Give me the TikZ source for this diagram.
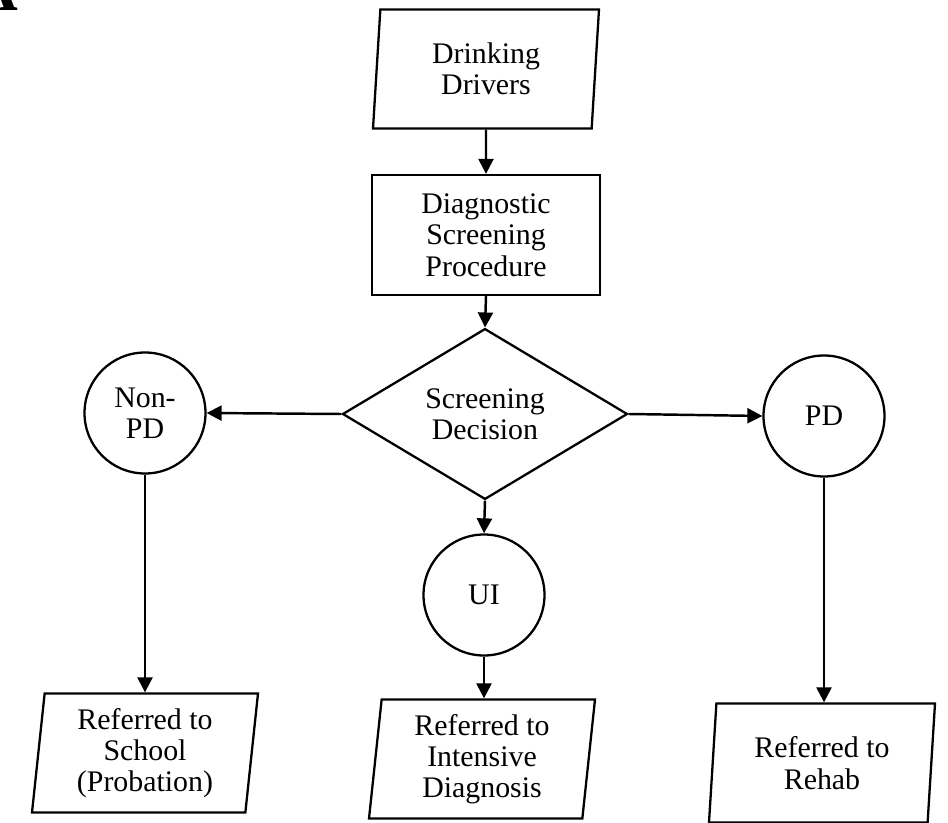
\documentclass[tikz,border=0pt]{standalone}
\usepackage{fontspec}
\setmainfont{Liberation Serif}
\usetikzlibrary{shapes.geometric,arrows.meta}

\begin{document}
\begin{tikzpicture}[
    every node/.style={font=\fontsize{17}{17.8}\selectfont, align=center},
    io/.style={trapezium, trapezium left angle=82, trapezium right angle=98, trapezium stretches body, draw, line width=1.3pt, minimum width=4.52cm, minimum height=2.38cm, inner sep=0pt},
    proc/.style={rectangle, draw, line width=1.3pt, minimum width=4.56cm, minimum height=2.4cm},
    choice/.style={diamond, draw, line width=1.3pt, minimum width=5.7cm, minimum height=2.84cm, inner sep=0pt},
    outcome/.style={circle, draw, line width=1.3pt, minimum size=2.42cm, inner sep=0pt},
    flow/.style={-{Triangle[length=0.3cm,width=0.3cm]}, line width=1.4pt},
    ]
    \useasboundingbox (0,0) rectangle (18.96,-16.46);
    \node[font=\fontsize{36}{40}\selectfont\bfseries, anchor=base east, inner sep=0pt] (lbl) at (0.38,-0.22) {A};
    \node[io] (drivers) at (9.72,-1.38) {Drinking\\Drivers};
    \node[proc] (screen) at (9.72,-4.70) {Diagnostic\\Screening\\Procedure};
    \node[choice] (decide) at (9.70,-8.28) {Screening\\Decision};
    \node[outcome] (nonpd) at (2.90,-8.26) {Non-\\PD};
    \node[outcome] (pd) at (16.48,-8.32) {PD};
    \node[outcome] (ui) at (9.68,-11.90) {UI};
    \node[io] (school) at (2.90,-15.06) {Referred to\\School\\(Probation)};
    \node[io] (intensive) at (9.64,-15.18) {Referred to\\Intensive\\Diagnosis};
    \node[io] (rehab) at (16.44,-15.26) {Referred to\\Rehab};
    \draw[flow] (drivers.south) -- (screen.north);
    \draw[flow] (screen.south) -- (decide.north);
    \draw[flow] (decide.west) -- (nonpd.east);
    \draw[flow] (decide.east) -- (pd.west);
    \draw[flow] (decide.south) -- (ui.north);
    \draw[flow] (nonpd.south) -- (nonpd.south |- school.north);
    \draw[flow] (ui.south) -- (ui.south |- intensive.north);
    \draw[flow] (pd.south) -- (pd.south |- rehab.north);
\end{tikzpicture}
\end{document}
